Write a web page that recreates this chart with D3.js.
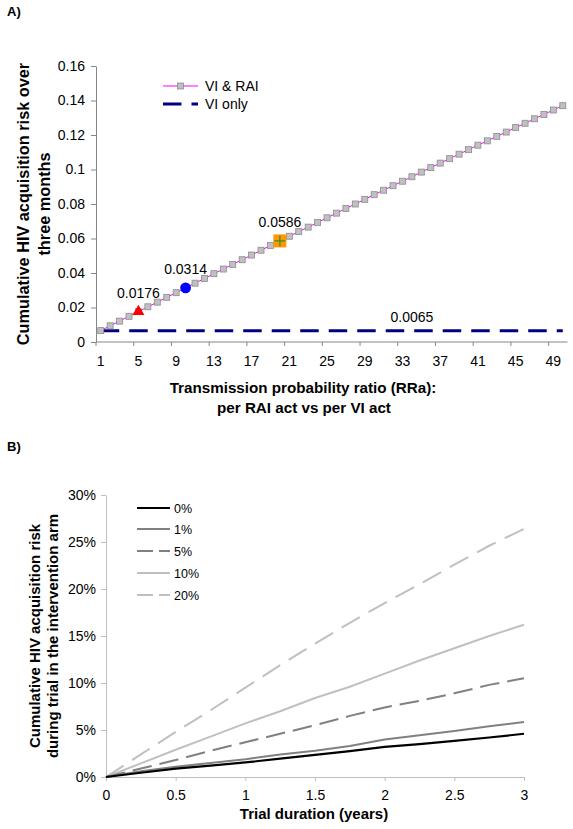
<!DOCTYPE html>
<html><head><meta charset="utf-8">
<script src="https://cdn.jsdelivr.net/npm/d3@7"></script>
<style>
body{margin:0;background:#fff}
svg{display:block}
text{font-family:Arial,"Liberation Sans",sans-serif;fill:#000}
</style></head>
<body><svg id="c" width="573" height="829"></svg>
<script>
// ---------- Panel A data ----------
const rra = [1,2,3,4,5,6,7,8,9,10,11,12,13,14,15,16,17,18,19,20,21,22,23,24,25,26,27,28,29,30,31,32,33,34,35,36,37,38,39,40,41,42,43,44,45,46,47,48,49,50];
const viRai = [0.0066,0.0094,0.0121,0.0149,0.0176,0.0204,0.0231,0.0259,0.0286,0.0314,
  0.0341,0.0368,0.0396,0.0423,0.0450,0.0477,0.0504,0.0532,0.0559,0.0586,
  0.0613,0.0640,0.0666,0.0693,0.0720,0.0747,0.0774,0.0800,0.0827,0.0854,
  0.0880,0.0906,0.0932,0.0958,0.0985,0.1011,0.1037,0.1063,0.1089,0.1115,
  0.1141,0.1166,0.1192,0.1217,0.1243,0.1268,0.1294,0.1319,0.1345,0.1370];
const viOnly = [0.0065,0.0065,0.0065,0.0065,0.0065,0.0065,0.0065,0.0065,0.0065,0.0065,
  0.0065,0.0065,0.0065,0.0065,0.0065,0.0065,0.0065,0.0065,0.0065,0.0065,
  0.0065,0.0065,0.0065,0.0065,0.0065,0.0065,0.0065,0.0065,0.0065,0.0065,
  0.0065,0.0065,0.0065,0.0065,0.0065,0.0065,0.0065,0.0065,0.0065,0.0065,
  0.0065,0.0065,0.0065,0.0065,0.0065,0.0065,0.0065,0.0065,0.0065,0.0065];
const highlightRRa = [5, 10, 20];
const highlightVal = [0.0176, 0.0314, 0.0586];
const highlightLabel = ["0.0176", "0.0314", "0.0586"];
const viOnlyLabelRRa = 34;
const viOnlyLabel = "0.0065";
const yTicksA = [0,0.02,0.04,0.06,0.08,0.1,0.12,0.14,0.16];
const xTicksA = [1,5,9,13,17,21,25,29,33,37,41,45,49];
const legendA = ["VI & RAI", "VI only"];

// ---------- Panel B data ----------
const years = [0,0.25,0.5,0.75,1,1.25,1.5,1.75,2,2.25,2.5,2.75,3];
const risk0  = [0,0.45,0.9,1.2,1.55,1.95,2.35,2.75,3.2,3.5,3.85,4.2,4.6];
const risk1  = [0,0.6,1.1,1.5,1.9,2.4,2.8,3.3,4.0,4.45,4.9,5.4,5.85];
const risk5  = [0,0.9,1.8,2.8,3.7,4.6,5.5,6.5,7.4,8.1,8.9,9.8,10.5];
const risk10 = [0,1.45,2.9,4.3,5.7,7.0,8.4,9.6,11.0,12.4,13.7,15.0,16.2];
const risk20 = [0,2.4,4.8,7.1,9.5,11.9,14.2,16.4,18.5,20.5,22.6,24.6,26.4];
const seriesNamesB = ["0%","1%","5%","10%","20%"];
const yTicksB = [0,5,10,15,20,25,30];
const xTicksB = [0,0.5,1,1.5,2,2.5,3];

const svg = d3.select("#c");

// ================= PANEL A =================
const gA = svg.append("g");
gA.append("text").attr("x",7).attr("y",16).attr("font-size","13px").attr("font-weight","bold").text("A)");

const xA = d3.scaleBand().domain(rra).range([96, 567.5]).padding(0);
const cx = d => xA(d) + xA.bandwidth()/2;
const yA = d3.scaleLinear().domain([0, 0.16]).range([342, 66]);
const axisColA = "#868686";

const yAxA = gA.append("g").attr("transform","translate(96,0)")
  .call(d3.axisLeft(yA).tickValues(yTicksA).tickSize(5).tickPadding(6).tickSizeOuter(0)
    .tickFormat(d => d === 0 ? "0" : String(+d.toFixed(2))));
yAxA.selectAll("path,line").attr("stroke", axisColA);
yAxA.selectAll("text").attr("font-size","14px").attr("font-family",'Arial,"Liberation Sans",sans-serif').attr("fill","#000");

const xAxA = gA.append("g").attr("transform","translate(0,342)")
  .call(d3.axisBottom(xA).tickValues(xTicksA).tickSize(0).tickPadding(14));
xAxA.select(".domain").remove();
xAxA.selectAll("text").attr("font-size","14px").attr("font-family",'Arial,"Liberation Sans",sans-serif').attr("fill","#000");
gA.append("line").attr("x1",xA.range()[0]).attr("x2",xA.range()[1]).attr("y1",342).attr("y2",342).attr("stroke",axisColA);
gA.selectAll(".xtA").data(xTicksA).enter().append("line")
  .attr("x1",d=>xA(d)).attr("x2",d=>xA(d)).attr("y1",342).attr("y2",346).attr("stroke",axisColA);

gA.append("path").datum(rra)
  .attr("d", d3.line().x(d=>cx(d)).y((d,i)=>yA(viOnly[i])))
  .attr("fill","none").attr("stroke","#000080").attr("stroke-width",3).attr("stroke-dasharray","18.5,10");

gA.append("path").datum(rra)
  .attr("d", d3.line().x(d=>cx(d)).y((d,i)=>yA(viRai[i])))
  .attr("fill","none").attr("stroke","#FF00FF").attr("stroke-width",1);
gA.selectAll(".sq").data(rra).enter().append("rect")
  .attr("x",d=>cx(d)-3).attr("y",(d,i)=>yA(viRai[i])-3).attr("width",6).attr("height",6)
  .attr("fill","#C0C0C0").attr("stroke","#8c8c8c").attr("stroke-width",0.8);

gA.append("path").attr("d", d3.symbol(d3.symbolTriangle).size(62)())
  .attr("transform",`translate(${cx(highlightRRa[0])},${yA(highlightVal[0])})`).attr("fill","#FF0000");
gA.append("circle").attr("cx",cx(highlightRRa[1])).attr("cy",yA(highlightVal[1])).attr("r",5.4).attr("fill","#0000FF");
const sx = cx(highlightRRa[2]), sy = yA(highlightVal[2]);
gA.append("rect").attr("x",sx-6.5).attr("y",sy-6.5).attr("width",13).attr("height",13).attr("fill","#FF9900");
gA.append("line").attr("x1",sx-5.5).attr("x2",sx+5.5).attr("y1",sy).attr("y2",sy).attr("stroke","#2f8f2f").attr("stroke-width",1.2);
gA.append("line").attr("x1",sx).attr("x2",sx).attr("y1",sy-5.5).attr("y2",sy+5.5).attr("stroke","#2f8f2f").attr("stroke-width",1.2);

highlightRRa.forEach((r,i)=>{
  gA.append("text").attr("x",cx(r)).attr("y",yA(highlightVal[i])-14)
    .attr("text-anchor","middle").attr("font-size","14px").text(highlightLabel[i]);
});
gA.append("text").attr("x",cx(viOnlyLabelRRa)).attr("y",yA(viOnly[rra.indexOf(viOnlyLabelRRa)])-9)
  .attr("text-anchor","middle").attr("font-size","14px").text(viOnlyLabel);

gA.append("line").attr("x1",163).attr("x2",198).attr("y1",86).attr("y2",86).attr("stroke","#FF00FF").attr("stroke-width",1);
gA.append("rect").attr("x",177.5).attr("y",83).attr("width",6).attr("height",6).attr("fill","#C0C0C0").attr("stroke","#8c8c8c").attr("stroke-width",0.8);
gA.append("text").attr("x",205).attr("y",91).attr("font-size","14px").text(legendA[0]);
gA.append("line").attr("x1",163).attr("x2",198).attr("y1",104).attr("y2",104).attr("stroke","#000080").attr("stroke-width",3).attr("stroke-dasharray","18.5,10");
gA.append("text").attr("x",205).attr("y",109).attr("font-size","14px").text(legendA[1]);

gA.append("text").attr("transform","translate(29,204) rotate(-90)").attr("text-anchor","middle")
  .attr("font-size","16.3px").attr("font-weight","bold").text("Cumulative HIV acquisition risk over");
gA.append("text").attr("transform","translate(50,204) rotate(-90)").attr("text-anchor","middle")
  .attr("font-size","16.3px").attr("font-weight","bold").text("three months");
gA.append("text").attr("x",303).attr("y",393).attr("text-anchor","middle")
  .attr("font-size","15.2px").attr("font-weight","bold").text("Transmission probability ratio (RRa):");
gA.append("text").attr("x",304).attr("y",413).attr("text-anchor","middle")
  .attr("font-size","15.2px").attr("font-weight","bold").text("per RAI act vs per VI act");

// ================= PANEL B =================
const gB = svg.append("g");
gB.append("text").attr("x",7).attr("y",451).attr("font-size","13px").attr("font-weight","bold").text("B)");

const xB = d3.scaleLinear().domain([0,3]).range([106,524]);
const yB = d3.scaleLinear().domain([0,30]).range([777,495]);
const axisColB = "#BFBFBF";

const yAxB = gB.append("g").attr("transform","translate(106,0)")
  .call(d3.axisLeft(yB).tickValues(yTicksB).tickSize(5).tickPadding(5).tickSizeOuter(0).tickFormat(d=>d+"%"));
yAxB.selectAll("path,line").attr("stroke",axisColB);
yAxB.selectAll("text").attr("font-size","14px").attr("font-family",'Arial,"Liberation Sans",sans-serif').attr("fill","#000");

const xAxB = gB.append("g").attr("transform","translate(0,777)")
  .call(d3.axisBottom(xB).tickValues(xTicksB).tickSize(4).tickPadding(9).tickSizeOuter(0).tickFormat(d=>String(d)));
xAxB.selectAll("path,line").attr("stroke",axisColB);
xAxB.selectAll("text").attr("font-size","14px").attr("font-family",'Arial,"Liberation Sans",sans-serif').attr("fill","#000");

const seriesB = [risk0, risk1, risk5, risk10, risk20];
const colB = ["#000000","#808080","#808080","#C0C0C0","#C0C0C0"];
const widB = [2.2,2,2,2,2];
const dashB = [null,null,"19.5,8",null,"21,10"];
const lineB = d3.line().x((d,i)=>xB(years[i])).y(d=>yB(d));
[4,3,2,1,0].forEach(k=>{
  gB.append("path").datum(seriesB[k]).attr("d",lineB)
    .attr("fill","none").attr("stroke",colB[k]).attr("stroke-width",widB[k])
    .attr("stroke-dasharray",dashB[k]);
});

const legY = [508,529,551,573,595];
seriesNamesB.forEach((n,k)=>{
  gB.append("line").attr("x1",137).attr("x2",170).attr("y1",legY[k]).attr("y2",legY[k])
    .attr("stroke",colB[k]).attr("stroke-width",widB[k]).attr("stroke-dasharray",dashB[k] ? "16,6" : null);
  gB.append("text").attr("x",174).attr("y",legY[k]+4.5).attr("font-size","12.5px").text(n);
});

gB.append("text").attr("transform","translate(40,636) rotate(-90)").attr("text-anchor","middle")
  .attr("font-size","15px").attr("font-weight","bold").text("Cumulative HIV acquisition risk");
gB.append("text").attr("transform","translate(58,636) rotate(-90)").attr("text-anchor","middle")
  .attr("font-size","15px").attr("font-weight","bold").text("during trial in the intervention arm");
gB.append("text").attr("x",314).attr("y",819).attr("text-anchor","middle")
  .attr("font-size","15px").attr("font-weight","bold").text("Trial duration (years)");
</script></body></html>
